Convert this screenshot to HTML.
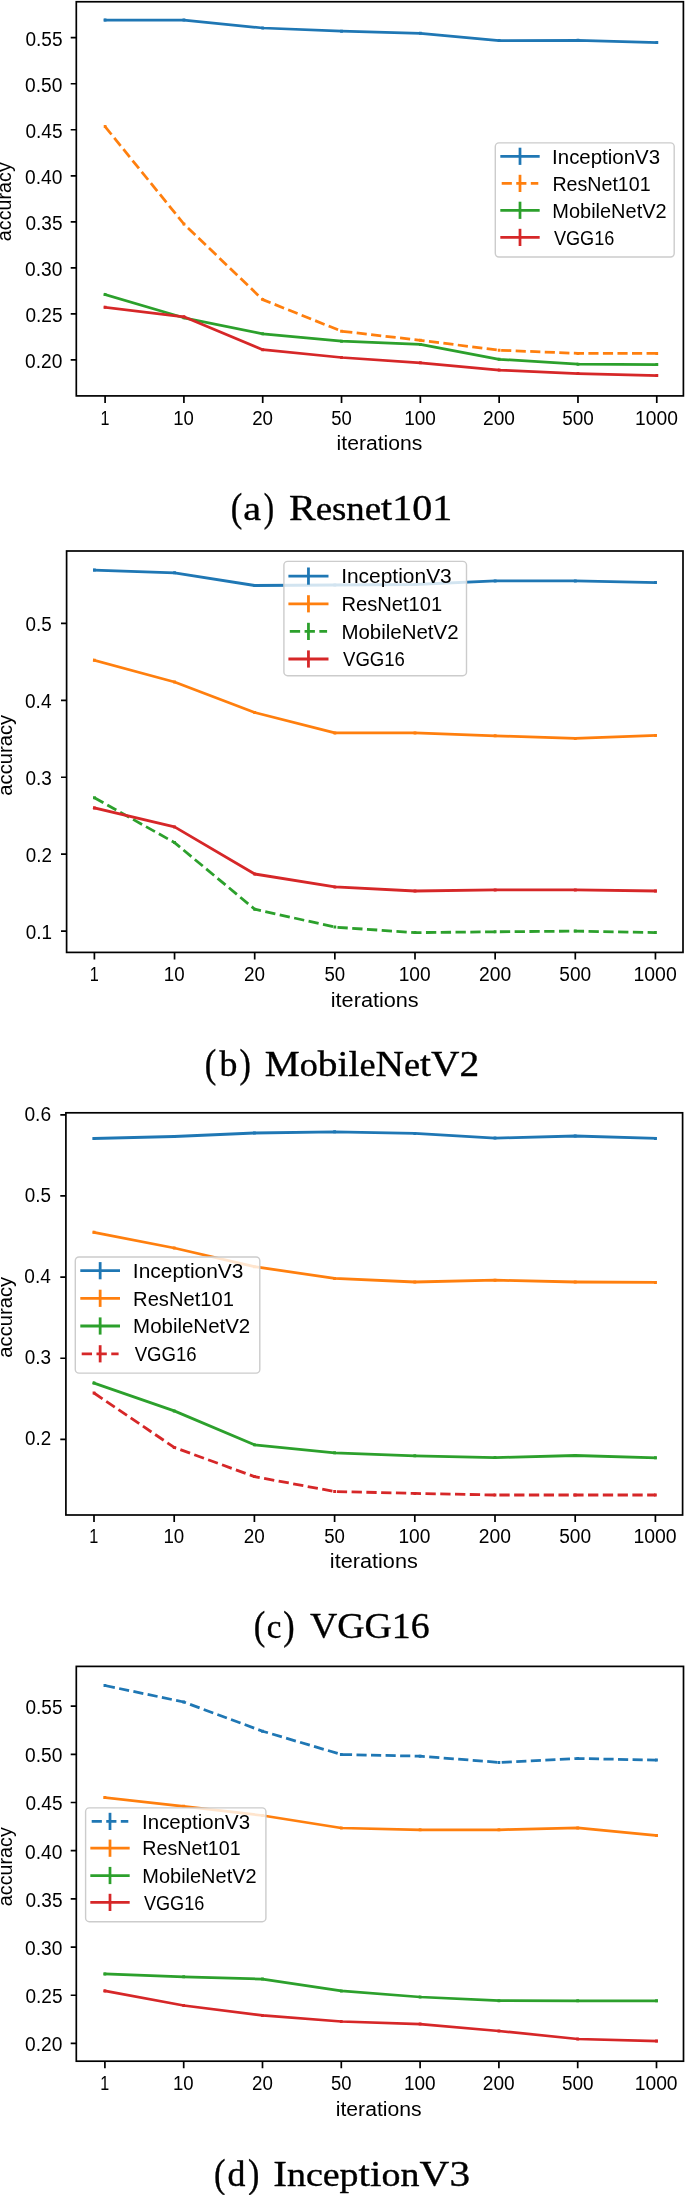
<!DOCTYPE html>
<html><head><meta charset="utf-8"><title>accuracy vs iterations</title>
<style>
html,body{margin:0;padding:0;background:#fff;}
body{width:685px;height:2195px;overflow:hidden;}
svg{display:block;filter:blur(0.45px);}
text{fill:#000;}
</style></head>
<body>
<svg width="685" height="2195" viewBox="0 0 685 2195">
<rect width="685" height="2195" fill="#fff"/>
<polyline points="105.1,20.1 183.91,20.1 262.72,28 341.53,31.2 420.34,33.3 499.15,40.6 577.96,40.3 656.77,42.6" fill="none" stroke="#1f77b4" stroke-width="2.75" stroke-linejoin="round" stroke-linecap="square"/>
<path d="M105.1 18.6v3M183.91 18.6v3M262.72 26.5v3M341.53 29.7v3M420.34 31.8v3M499.15 39.1v3M577.96 38.8v3M656.77 41.1v3" stroke="#1f77b4" stroke-width="2.75"/>
<polyline points="105.1,126.6 183.91,224 262.72,299.6 341.53,331.2 420.34,340.3 499.15,350.2 577.96,353.4 656.77,353.4" fill="none" stroke="#ff7f0e" stroke-width="2.75" stroke-linejoin="round" stroke-linecap="butt" stroke-dasharray="10.16 4.39"/>
<path d="M105.1 125.1v3M183.91 222.5v3M262.72 298.1v3M341.53 329.7v3M420.34 338.8v3M499.15 348.7v3M577.96 351.9v3M656.77 351.9v3" stroke="#ff7f0e" stroke-width="2.75"/>
<polyline points="105.1,294.5 183.91,317.8 262.72,333.8 341.53,341.2 420.34,344.4 499.15,359.3 577.96,364.2 656.77,364.5" fill="none" stroke="#2ca02c" stroke-width="2.75" stroke-linejoin="round" stroke-linecap="square"/>
<path d="M105.1 293v3M183.91 316.3v3M262.72 332.3v3M341.53 339.7v3M420.34 342.9v3M499.15 357.8v3M577.96 362.7v3M656.77 363v3" stroke="#2ca02c" stroke-width="2.75"/>
<polyline points="105.1,307.3 183.91,316.8 262.72,349.7 341.53,357.5 420.34,362.8 499.15,370.1 577.96,373.6 656.77,375.6" fill="none" stroke="#d62728" stroke-width="2.75" stroke-linejoin="round" stroke-linecap="square"/>
<path d="M105.1 305.8v3M183.91 315.3v3M262.72 348.2v3M341.53 356v3M420.34 361.3v3M499.15 368.6v3M577.96 372.1v3M656.77 374.1v3" stroke="#d62728" stroke-width="2.75"/>
<rect x="495.3" y="142.9" width="178.9" height="114.1" rx="3.66" fill="#fff" fill-opacity="0.8" stroke="#cccccc" stroke-width="1.4"/>
<line x1="501.7" y1="156.3" x2="538.3" y2="156.3" stroke="#1f77b4" stroke-width="2.75" stroke-linecap="square"/>
<line x1="520" y1="147.7" x2="520" y2="164.9" stroke="#1f77b4" stroke-width="2.75"/>
<text x="552.11" y="163.59" textLength="107.9" lengthAdjust="spacingAndGlyphs" style="font-family:'Liberation Sans',sans-serif;font-size:19.6px">InceptionV3</text>
<line x1="501.7" y1="183.4" x2="538.3" y2="183.4" stroke="#ff7f0e" stroke-width="2.75" stroke-dasharray="10.16 4.39"/>
<line x1="520" y1="174.8" x2="520" y2="192" stroke="#ff7f0e" stroke-width="2.75"/>
<text x="552.38" y="190.69" textLength="98.26" lengthAdjust="spacingAndGlyphs" style="font-family:'Liberation Sans',sans-serif;font-size:19.6px">ResNet101</text>
<line x1="501.7" y1="210.3" x2="538.3" y2="210.3" stroke="#2ca02c" stroke-width="2.75" stroke-linecap="square"/>
<line x1="520" y1="201.7" x2="520" y2="218.9" stroke="#2ca02c" stroke-width="2.75"/>
<text x="552.35" y="217.59" textLength="114.25" lengthAdjust="spacingAndGlyphs" style="font-family:'Liberation Sans',sans-serif;font-size:19.6px">MobileNetV2</text>
<line x1="501.7" y1="237.4" x2="538.3" y2="237.4" stroke="#d62728" stroke-width="2.75" stroke-linecap="square"/>
<line x1="520" y1="228.8" x2="520" y2="246" stroke="#d62728" stroke-width="2.75"/>
<text x="553.91" y="244.69" textLength="60.46" lengthAdjust="spacingAndGlyphs" style="font-family:'Liberation Sans',sans-serif;font-size:19.6px">VGG16</text>
<rect x="76.3" y="1.75" width="607.1" height="394.15" fill="none" stroke="#000" stroke-width="1.7" stroke-linejoin="miter"/>
<path d="M105.1 395.9v7M183.91 395.9v7M262.72 395.9v7M341.53 395.9v7M420.34 395.9v7M499.15 395.9v7M577.96 395.9v7M656.77 395.9v7M76.3 37.7h-5.6M76.3 83.73h-5.6M76.3 129.76h-5.6M76.3 175.79h-5.6M76.3 221.82h-5.6M76.3 267.85h-5.6M76.3 313.88h-5.6M76.3 359.91h-5.6" stroke="#000" stroke-width="1.7"/>
<text x="100.41" y="424.5" textLength="8.96" lengthAdjust="spacingAndGlyphs" style="font-family:'Liberation Sans',sans-serif;font-size:19.6px">1</text>
<text x="173.27" y="424.5" textLength="20.63" lengthAdjust="spacingAndGlyphs" style="font-family:'Liberation Sans',sans-serif;font-size:19.6px">10</text>
<text x="252.21" y="424.5" textLength="20.83" lengthAdjust="spacingAndGlyphs" style="font-family:'Liberation Sans',sans-serif;font-size:19.6px">20</text>
<text x="331.26" y="424.5" textLength="20.54" lengthAdjust="spacingAndGlyphs" style="font-family:'Liberation Sans',sans-serif;font-size:19.6px">50</text>
<text x="404.14" y="424.5" textLength="31.7" lengthAdjust="spacingAndGlyphs" style="font-family:'Liberation Sans',sans-serif;font-size:19.6px">100</text>
<text x="483.1" y="424.5" textLength="31.89" lengthAdjust="spacingAndGlyphs" style="font-family:'Liberation Sans',sans-serif;font-size:19.6px">200</text>
<text x="562.15" y="424.5" textLength="31.6" lengthAdjust="spacingAndGlyphs" style="font-family:'Liberation Sans',sans-serif;font-size:19.6px">500</text>
<text x="635.01" y="424.5" textLength="42.85" lengthAdjust="spacingAndGlyphs" style="font-family:'Liberation Sans',sans-serif;font-size:19.6px">1000</text>
<text x="25.43" y="45.5" textLength="37.05" lengthAdjust="spacingAndGlyphs" style="font-family:'Liberation Sans',sans-serif;font-size:19.6px">0.55</text>
<text x="25.08" y="91.53" textLength="37.37" lengthAdjust="spacingAndGlyphs" style="font-family:'Liberation Sans',sans-serif;font-size:19.6px">0.50</text>
<text x="25.43" y="137.56" textLength="37.05" lengthAdjust="spacingAndGlyphs" style="font-family:'Liberation Sans',sans-serif;font-size:19.6px">0.45</text>
<text x="25.08" y="183.59" textLength="37.37" lengthAdjust="spacingAndGlyphs" style="font-family:'Liberation Sans',sans-serif;font-size:19.6px">0.40</text>
<text x="25.43" y="229.62" textLength="37.05" lengthAdjust="spacingAndGlyphs" style="font-family:'Liberation Sans',sans-serif;font-size:19.6px">0.35</text>
<text x="25.08" y="275.65" textLength="37.37" lengthAdjust="spacingAndGlyphs" style="font-family:'Liberation Sans',sans-serif;font-size:19.6px">0.30</text>
<text x="25.43" y="321.68" textLength="37.05" lengthAdjust="spacingAndGlyphs" style="font-family:'Liberation Sans',sans-serif;font-size:19.6px">0.25</text>
<text x="25.08" y="367.71" textLength="37.37" lengthAdjust="spacingAndGlyphs" style="font-family:'Liberation Sans',sans-serif;font-size:19.6px">0.20</text>
<text transform="translate(11.44 201.3) rotate(-90)" x="-39.84" y="0" textLength="78.87" lengthAdjust="spacingAndGlyphs" style="font-family:'Liberation Sans',sans-serif;font-size:19.6px">accuracy</text>
<text x="336.57" y="449.5" textLength="85.77" lengthAdjust="spacingAndGlyphs" style="font-family:'Liberation Sans',sans-serif;font-size:19.6px">iterations</text>
<g transform="translate(0 511.3) scale(1 1.12) translate(0 -511.3)"><text x="230.85" y="520.2" textLength="11.49" lengthAdjust="spacingAndGlyphs" style="font-family:'Liberation Serif',serif;stroke:#000;stroke-width:0.35px;font-size:35.8px">(</text></g>
<g transform="translate(0 511.3) scale(1 1.12) translate(0 -511.3)"><text x="263.79" y="520.2" textLength="10.35" lengthAdjust="spacingAndGlyphs" style="font-family:'Liberation Serif',serif;stroke:#000;stroke-width:0.35px;font-size:35.8px">)</text></g>
<text x="243.28" y="520.2" textLength="17.8" lengthAdjust="spacingAndGlyphs" style="font-family:'Liberation Serif',serif;stroke:#000;stroke-width:0.35px;font-size:35.8px"><tspan style="font-size:32.94px">a</tspan></text>
<text x="289" y="520.2" textLength="163.18" lengthAdjust="spacingAndGlyphs" style="font-family:'Liberation Serif',serif;stroke:#000;stroke-width:0.35px;font-size:35.8px">R<tspan style="font-size:32.94px">esne</tspan>t101</text>
<polyline points="94.4,570.1 174.55,572.8 254.7,585.5 334.85,585 415,584.5 495.15,580.9 575.3,580.9 655.45,582.5" fill="none" stroke="#1f77b4" stroke-width="2.79" stroke-linejoin="round" stroke-linecap="square"/>
<path d="M94.4 568.6v3M174.55 571.3v3M254.7 584v3M334.85 583.5v3M415 583v3M495.15 579.4v3M575.3 579.4v3M655.45 581v3" stroke="#1f77b4" stroke-width="2.79"/>
<polyline points="94.4,660.3 174.55,682 254.7,712.5 334.85,732.9 415,732.9 495.15,735.8 575.3,738.4 655.45,735.5" fill="none" stroke="#ff7f0e" stroke-width="2.79" stroke-linejoin="round" stroke-linecap="square"/>
<path d="M94.4 658.8v3M174.55 680.5v3M254.7 711v3M334.85 731.4v3M415 731.4v3M495.15 734.3v3M575.3 736.9v3M655.45 734v3" stroke="#ff7f0e" stroke-width="2.79"/>
<polyline points="94.4,797.7 174.55,842.6 254.7,909.2 334.85,927.1 415,932.6 495.15,931.8 575.3,931.1 655.45,932.6" fill="none" stroke="#2ca02c" stroke-width="2.79" stroke-linejoin="round" stroke-linecap="butt" stroke-dasharray="10.32 4.46"/>
<path d="M94.4 796.2v3M174.55 841.1v3M254.7 907.7v3M334.85 925.6v3M415 931.1v3M495.15 930.3v3M575.3 929.6v3M655.45 931.1v3" stroke="#2ca02c" stroke-width="2.79"/>
<polyline points="94.4,807.9 174.55,826.9 254.7,874 334.85,886.9 415,891 495.15,889.9 575.3,889.9 655.45,891" fill="none" stroke="#d62728" stroke-width="2.79" stroke-linejoin="round" stroke-linecap="square"/>
<path d="M94.4 806.4v3M174.55 825.4v3M254.7 872.5v3M334.85 885.4v3M415 889.5v3M495.15 888.4v3M575.3 888.4v3M655.45 889.5v3" stroke="#d62728" stroke-width="2.79"/>
<rect x="283.9" y="561.4" width="182.6" height="114.3" rx="3.72" fill="#fff" fill-opacity="0.8" stroke="#cccccc" stroke-width="1.4"/>
<line x1="289.8" y1="576.1" x2="327.1" y2="576.1" stroke="#1f77b4" stroke-width="2.79" stroke-linecap="square"/>
<line x1="308.45" y1="567.5" x2="308.45" y2="584.7" stroke="#1f77b4" stroke-width="2.79"/>
<text x="341.16" y="583.39" textLength="110.59" lengthAdjust="spacingAndGlyphs" style="font-family:'Liberation Sans',sans-serif;font-size:19.6px">InceptionV3</text>
<line x1="289.8" y1="603.8" x2="327.1" y2="603.8" stroke="#ff7f0e" stroke-width="2.79" stroke-linecap="square"/>
<line x1="308.45" y1="595.2" x2="308.45" y2="612.4" stroke="#ff7f0e" stroke-width="2.79"/>
<text x="341.44" y="611.09" textLength="100.72" lengthAdjust="spacingAndGlyphs" style="font-family:'Liberation Sans',sans-serif;font-size:19.6px">ResNet101</text>
<line x1="289.8" y1="631.4" x2="327.1" y2="631.4" stroke="#2ca02c" stroke-width="2.79" stroke-dasharray="10.32 4.46"/>
<line x1="308.45" y1="622.8" x2="308.45" y2="640" stroke="#2ca02c" stroke-width="2.79"/>
<text x="341.41" y="638.69" textLength="117.11" lengthAdjust="spacingAndGlyphs" style="font-family:'Liberation Sans',sans-serif;font-size:19.6px">MobileNetV2</text>
<line x1="289.8" y1="659" x2="327.1" y2="659" stroke="#d62728" stroke-width="2.79" stroke-linecap="square"/>
<line x1="308.45" y1="650.4" x2="308.45" y2="667.6" stroke="#d62728" stroke-width="2.79"/>
<text x="343.01" y="666.29" textLength="61.97" lengthAdjust="spacingAndGlyphs" style="font-family:'Liberation Sans',sans-serif;font-size:19.6px">VGG16</text>
<rect x="66.6" y="551" width="616.4" height="401.4" fill="none" stroke="#000" stroke-width="1.7" stroke-linejoin="miter"/>
<path d="M94.4 952.4v7M174.55 952.4v7M254.7 952.4v7M334.85 952.4v7M415 952.4v7M495.15 952.4v7M575.3 952.4v7M655.45 952.4v7M66.6 623.4h-5.6M66.6 700.33h-5.6M66.6 777.26h-5.6M66.6 854.19h-5.6M66.6 931.12h-5.6" stroke="#000" stroke-width="1.7"/>
<text x="89.66" y="981.3" textLength="9.05" lengthAdjust="spacingAndGlyphs" style="font-family:'Liberation Sans',sans-serif;font-size:19.6px">1</text>
<text x="163.8" y="981.3" textLength="20.83" lengthAdjust="spacingAndGlyphs" style="font-family:'Liberation Sans',sans-serif;font-size:19.6px">10</text>
<text x="244.08" y="981.3" textLength="21.04" lengthAdjust="spacingAndGlyphs" style="font-family:'Liberation Sans',sans-serif;font-size:19.6px">20</text>
<text x="324.48" y="981.3" textLength="20.74" lengthAdjust="spacingAndGlyphs" style="font-family:'Liberation Sans',sans-serif;font-size:19.6px">50</text>
<text x="398.64" y="981.3" textLength="32.02" lengthAdjust="spacingAndGlyphs" style="font-family:'Liberation Sans',sans-serif;font-size:19.6px">100</text>
<text x="478.93" y="981.3" textLength="32.21" lengthAdjust="spacingAndGlyphs" style="font-family:'Liberation Sans',sans-serif;font-size:19.6px">200</text>
<text x="559.33" y="981.3" textLength="31.91" lengthAdjust="spacingAndGlyphs" style="font-family:'Liberation Sans',sans-serif;font-size:19.6px">500</text>
<text x="633.47" y="981.3" textLength="43.28" lengthAdjust="spacingAndGlyphs" style="font-family:'Liberation Sans',sans-serif;font-size:19.6px">1000</text>
<text x="25.55" y="631.2" textLength="26.21" lengthAdjust="spacingAndGlyphs" style="font-family:'Liberation Sans',sans-serif;font-size:19.6px">0.5</text>
<text x="25.01" y="708.13" textLength="26.52" lengthAdjust="spacingAndGlyphs" style="font-family:'Liberation Sans',sans-serif;font-size:19.6px">0.4</text>
<text x="25.45" y="785.06" textLength="26.36" lengthAdjust="spacingAndGlyphs" style="font-family:'Liberation Sans',sans-serif;font-size:19.6px">0.3</text>
<text x="25.81" y="861.99" textLength="26.13" lengthAdjust="spacingAndGlyphs" style="font-family:'Liberation Sans',sans-serif;font-size:19.6px">0.2</text>
<text x="25.63" y="938.92" textLength="26.27" lengthAdjust="spacingAndGlyphs" style="font-family:'Liberation Sans',sans-serif;font-size:19.6px">0.1</text>
<text transform="translate(11.64 754.8) rotate(-90)" x="-40.83" y="0" textLength="80.84" lengthAdjust="spacingAndGlyphs" style="font-family:'Liberation Sans',sans-serif;font-size:19.6px">accuracy</text>
<text x="330.79" y="1007.3" textLength="87.92" lengthAdjust="spacingAndGlyphs" style="font-family:'Liberation Sans',sans-serif;font-size:19.6px">iterations</text>
<g transform="translate(0 1066.8) scale(1 1.12) translate(0 -1066.8)"><text x="204.75" y="1075.7" textLength="11.49" lengthAdjust="spacingAndGlyphs" style="font-family:'Liberation Serif',serif;stroke:#000;stroke-width:0.35px;font-size:35.8px">(</text></g>
<g transform="translate(0 1066.8) scale(1 1.12) translate(0 -1066.8)"><text x="239.39" y="1075.7" textLength="11.38" lengthAdjust="spacingAndGlyphs" style="font-family:'Liberation Serif',serif;stroke:#000;stroke-width:0.35px;font-size:35.8px">)</text></g>
<text x="219.52" y="1075.7" textLength="17.9" lengthAdjust="spacingAndGlyphs" style="font-family:'Liberation Serif',serif;stroke:#000;stroke-width:0.35px;font-size:35.8px">b</text>
<text x="264.72" y="1075.7" textLength="214.4" lengthAdjust="spacingAndGlyphs" style="font-family:'Liberation Serif',serif;stroke:#000;stroke-width:0.35px;font-size:35.8px">M<tspan style="font-size:32.94px">o</tspan>bil<tspan style="font-size:32.94px">e</tspan>N<tspan style="font-size:32.94px">e</tspan>tV2</text>
<polyline points="94,1138.5 174.2,1136.5 254.4,1133 334.6,1131.8 414.8,1133.4 495,1138.1 575.2,1136 655.4,1138.4" fill="none" stroke="#1f77b4" stroke-width="2.79" stroke-linejoin="round" stroke-linecap="square"/>
<path d="M94 1137v3M174.2 1135v3M254.4 1131.5v3M334.6 1130.3v3M414.8 1131.9v3M495 1136.6v3M575.2 1134.5v3M655.4 1136.9v3" stroke="#1f77b4" stroke-width="2.79"/>
<polyline points="94,1232.3 174.2,1248 254.4,1266.7 334.6,1278.4 414.8,1282 495,1280.2 575.2,1282 655.4,1282.4" fill="none" stroke="#ff7f0e" stroke-width="2.79" stroke-linejoin="round" stroke-linecap="square"/>
<path d="M94 1230.8v3M174.2 1246.5v3M254.4 1265.2v3M334.6 1276.9v3M414.8 1280.5v3M495 1278.7v3M575.2 1280.5v3M655.4 1280.9v3" stroke="#ff7f0e" stroke-width="2.79"/>
<polyline points="94,1383.1 174.2,1410.9 254.4,1444.8 334.6,1452.8 414.8,1455.8 495,1457.6 575.2,1455.5 655.4,1457.8" fill="none" stroke="#2ca02c" stroke-width="2.79" stroke-linejoin="round" stroke-linecap="square"/>
<path d="M94 1381.6v3M174.2 1409.4v3M254.4 1443.3v3M334.6 1451.3v3M414.8 1454.3v3M495 1456.1v3M575.2 1454v3M655.4 1456.3v3" stroke="#2ca02c" stroke-width="2.79"/>
<polyline points="94,1393 174.2,1447.4 254.4,1476.6 334.6,1491.5 414.8,1493.4 495,1495 575.2,1495 655.4,1495" fill="none" stroke="#d62728" stroke-width="2.79" stroke-linejoin="round" stroke-linecap="butt" stroke-dasharray="10.32 4.46"/>
<path d="M94 1391.5v3M174.2 1445.9v3M254.4 1475.1v3M334.6 1490v3M414.8 1491.9v3M495 1493.5v3M575.2 1493.5v3M655.4 1493.5v3" stroke="#d62728" stroke-width="2.79"/>
<rect x="75.3" y="1257" width="184.5" height="116.1" rx="3.72" fill="#fff" fill-opacity="0.8" stroke="#cccccc" stroke-width="1.4"/>
<line x1="81.7" y1="1270.7" x2="118.6" y2="1270.7" stroke="#1f77b4" stroke-width="2.79" stroke-linecap="square"/>
<line x1="100.15" y1="1262.1" x2="100.15" y2="1279.3" stroke="#1f77b4" stroke-width="2.79"/>
<text x="132.86" y="1277.99" textLength="110.59" lengthAdjust="spacingAndGlyphs" style="font-family:'Liberation Sans',sans-serif;font-size:19.6px">InceptionV3</text>
<line x1="81.7" y1="1298.3" x2="118.6" y2="1298.3" stroke="#ff7f0e" stroke-width="2.79" stroke-linecap="square"/>
<line x1="100.15" y1="1289.7" x2="100.15" y2="1306.9" stroke="#ff7f0e" stroke-width="2.79"/>
<text x="133.14" y="1305.59" textLength="100.72" lengthAdjust="spacingAndGlyphs" style="font-family:'Liberation Sans',sans-serif;font-size:19.6px">ResNet101</text>
<line x1="81.7" y1="1326" x2="118.6" y2="1326" stroke="#2ca02c" stroke-width="2.79" stroke-linecap="square"/>
<line x1="100.15" y1="1317.4" x2="100.15" y2="1334.6" stroke="#2ca02c" stroke-width="2.79"/>
<text x="133.11" y="1333.29" textLength="117.11" lengthAdjust="spacingAndGlyphs" style="font-family:'Liberation Sans',sans-serif;font-size:19.6px">MobileNetV2</text>
<line x1="81.7" y1="1353.8" x2="118.6" y2="1353.8" stroke="#d62728" stroke-width="2.79" stroke-dasharray="10.32 4.46"/>
<line x1="100.15" y1="1345.2" x2="100.15" y2="1362.4" stroke="#d62728" stroke-width="2.79"/>
<text x="134.71" y="1361.09" textLength="61.97" lengthAdjust="spacingAndGlyphs" style="font-family:'Liberation Sans',sans-serif;font-size:19.6px">VGG16</text>
<rect x="65.9" y="1112.8" width="616.7" height="402.2" fill="none" stroke="#000" stroke-width="1.7" stroke-linejoin="miter"/>
<path d="M94 1515v7M174.2 1515v7M254.4 1515v7M334.6 1515v7M414.8 1515v7M495 1515v7M575.2 1515v7M655.4 1515v7M65.9 1114.8h-5.6M65.9 1195.95h-5.6M65.9 1277.1h-5.6M65.9 1358.25h-5.6M65.9 1439.4h-5.6" stroke="#000" stroke-width="1.7"/>
<text x="89.26" y="1542.9" textLength="9.05" lengthAdjust="spacingAndGlyphs" style="font-family:'Liberation Sans',sans-serif;font-size:19.6px">1</text>
<text x="163.45" y="1542.9" textLength="20.83" lengthAdjust="spacingAndGlyphs" style="font-family:'Liberation Sans',sans-serif;font-size:19.6px">10</text>
<text x="243.78" y="1542.9" textLength="21.04" lengthAdjust="spacingAndGlyphs" style="font-family:'Liberation Sans',sans-serif;font-size:19.6px">20</text>
<text x="324.23" y="1542.9" textLength="20.74" lengthAdjust="spacingAndGlyphs" style="font-family:'Liberation Sans',sans-serif;font-size:19.6px">50</text>
<text x="398.44" y="1542.9" textLength="32.02" lengthAdjust="spacingAndGlyphs" style="font-family:'Liberation Sans',sans-serif;font-size:19.6px">100</text>
<text x="478.78" y="1542.9" textLength="32.21" lengthAdjust="spacingAndGlyphs" style="font-family:'Liberation Sans',sans-serif;font-size:19.6px">200</text>
<text x="559.23" y="1542.9" textLength="31.91" lengthAdjust="spacingAndGlyphs" style="font-family:'Liberation Sans',sans-serif;font-size:19.6px">500</text>
<text x="633.42" y="1542.9" textLength="43.28" lengthAdjust="spacingAndGlyphs" style="font-family:'Liberation Sans',sans-serif;font-size:19.6px">1000</text>
<text x="24.44" y="1120.7" textLength="26.68" lengthAdjust="spacingAndGlyphs" style="font-family:'Liberation Sans',sans-serif;font-size:19.6px">0.6</text>
<text x="24.85" y="1201.85" textLength="26.21" lengthAdjust="spacingAndGlyphs" style="font-family:'Liberation Sans',sans-serif;font-size:19.6px">0.5</text>
<text x="24.31" y="1283" textLength="26.52" lengthAdjust="spacingAndGlyphs" style="font-family:'Liberation Sans',sans-serif;font-size:19.6px">0.4</text>
<text x="24.75" y="1364.15" textLength="26.36" lengthAdjust="spacingAndGlyphs" style="font-family:'Liberation Sans',sans-serif;font-size:19.6px">0.3</text>
<text x="25.11" y="1445.3" textLength="26.13" lengthAdjust="spacingAndGlyphs" style="font-family:'Liberation Sans',sans-serif;font-size:19.6px">0.2</text>
<text transform="translate(11.54 1316.8) rotate(-90)" x="-40.83" y="0" textLength="80.84" lengthAdjust="spacingAndGlyphs" style="font-family:'Liberation Sans',sans-serif;font-size:19.6px">accuracy</text>
<text x="329.89" y="1567.7" textLength="87.92" lengthAdjust="spacingAndGlyphs" style="font-family:'Liberation Sans',sans-serif;font-size:19.6px">iterations</text>
<g transform="translate(0 1629.4) scale(1 1.12) translate(0 -1629.4)"><text x="253.75" y="1638.3" textLength="11.49" lengthAdjust="spacingAndGlyphs" style="font-family:'Liberation Serif',serif;stroke:#000;stroke-width:0.35px;font-size:35.8px">(</text></g>
<g transform="translate(0 1629.4) scale(1 1.12) translate(0 -1629.4)"><text x="283.19" y="1638.3" textLength="11.38" lengthAdjust="spacingAndGlyphs" style="font-family:'Liberation Serif',serif;stroke:#000;stroke-width:0.35px;font-size:35.8px">)</text></g>
<text x="266.77" y="1638.3" textLength="14.62" lengthAdjust="spacingAndGlyphs" style="font-family:'Liberation Serif',serif;stroke:#000;stroke-width:0.35px;font-size:35.8px"><tspan style="font-size:32.94px">c</tspan></text>
<text x="309.93" y="1638.3" textLength="119.77" lengthAdjust="spacingAndGlyphs" style="font-family:'Liberation Serif',serif;stroke:#000;stroke-width:0.35px;font-size:35.8px">VGG16</text>
<polyline points="104.9,1685.5 183.7,1702 262.5,1731.2 341.3,1754.5 420.1,1756.2 498.9,1762.4 577.7,1758.5 656.5,1760.1" fill="none" stroke="#1f77b4" stroke-width="2.75" stroke-linejoin="round" stroke-linecap="butt" stroke-dasharray="10.16 4.39"/>
<path d="M104.9 1684v3M183.7 1700.5v3M262.5 1729.7v3M341.3 1753v3M420.1 1754.7v3M498.9 1760.9v3M577.7 1757v3M656.5 1758.6v3" stroke="#1f77b4" stroke-width="2.75"/>
<polyline points="104.9,1797.5 183.7,1806.3 262.5,1815.5 341.3,1828 420.1,1829.8 498.9,1829.8 577.7,1827.9 656.5,1835.6" fill="none" stroke="#ff7f0e" stroke-width="2.75" stroke-linejoin="round" stroke-linecap="square"/>
<path d="M104.9 1796v3M183.7 1804.8v3M262.5 1814v3M341.3 1826.5v3M420.1 1828.3v3M498.9 1828.3v3M577.7 1826.4v3M656.5 1834.1v3" stroke="#ff7f0e" stroke-width="2.75"/>
<polyline points="104.9,1973.9 183.7,1976.8 262.5,1979.1 341.3,1990.9 420.1,1997 498.9,2000.7 577.7,2000.8 656.5,2000.8" fill="none" stroke="#2ca02c" stroke-width="2.75" stroke-linejoin="round" stroke-linecap="square"/>
<path d="M104.9 1972.4v3M183.7 1975.3v3M262.5 1977.6v3M341.3 1989.4v3M420.1 1995.5v3M498.9 1999.2v3M577.7 1999.3v3M656.5 1999.3v3" stroke="#2ca02c" stroke-width="2.75"/>
<polyline points="104.9,1990.9 183.7,2005.5 262.5,2015.4 341.3,2021.5 420.1,2024.1 498.9,2031 577.7,2039 656.5,2041.1" fill="none" stroke="#d62728" stroke-width="2.75" stroke-linejoin="round" stroke-linecap="square"/>
<path d="M104.9 1989.4v3M183.7 2004v3M262.5 2013.9v3M341.3 2020v3M420.1 2022.6v3M498.9 2029.5v3M577.7 2037.5v3M656.5 2039.6v3" stroke="#d62728" stroke-width="2.75"/>
<rect x="85.6" y="1807.9" width="180.3" height="113.8" rx="3.66" fill="#fff" fill-opacity="0.8" stroke="#cccccc" stroke-width="1.4"/>
<line x1="91.7" y1="1821.4" x2="128.3" y2="1821.4" stroke="#1f77b4" stroke-width="2.75" stroke-dasharray="10.16 4.39"/>
<line x1="110" y1="1812.8" x2="110" y2="1830" stroke="#1f77b4" stroke-width="2.75"/>
<text x="142.11" y="1828.69" textLength="107.9" lengthAdjust="spacingAndGlyphs" style="font-family:'Liberation Sans',sans-serif;font-size:19.6px">InceptionV3</text>
<line x1="91.7" y1="1848.2" x2="128.3" y2="1848.2" stroke="#ff7f0e" stroke-width="2.75" stroke-linecap="square"/>
<line x1="110" y1="1839.6" x2="110" y2="1856.8" stroke="#ff7f0e" stroke-width="2.75"/>
<text x="142.38" y="1855.49" textLength="98.26" lengthAdjust="spacingAndGlyphs" style="font-family:'Liberation Sans',sans-serif;font-size:19.6px">ResNet101</text>
<line x1="91.7" y1="1875.5" x2="128.3" y2="1875.5" stroke="#2ca02c" stroke-width="2.75" stroke-linecap="square"/>
<line x1="110" y1="1866.9" x2="110" y2="1884.1" stroke="#2ca02c" stroke-width="2.75"/>
<text x="142.35" y="1882.79" textLength="114.25" lengthAdjust="spacingAndGlyphs" style="font-family:'Liberation Sans',sans-serif;font-size:19.6px">MobileNetV2</text>
<line x1="91.7" y1="1902.4" x2="128.3" y2="1902.4" stroke="#d62728" stroke-width="2.75" stroke-linecap="square"/>
<line x1="110" y1="1893.8" x2="110" y2="1911" stroke="#d62728" stroke-width="2.75"/>
<text x="143.91" y="1909.69" textLength="60.46" lengthAdjust="spacingAndGlyphs" style="font-family:'Liberation Sans',sans-serif;font-size:19.6px">VGG16</text>
<rect x="76.3" y="1666.4" width="607.2" height="394.8" fill="none" stroke="#000" stroke-width="1.7" stroke-linejoin="miter"/>
<path d="M104.9 2061.2v7M183.7 2061.2v7M262.5 2061.2v7M341.3 2061.2v7M420.1 2061.2v7M498.9 2061.2v7M577.7 2061.2v7M656.5 2061.2v7M76.3 1706.1h-5.6M76.3 1754.29h-5.6M76.3 1802.48h-5.6M76.3 1850.67h-5.6M76.3 1898.86h-5.6M76.3 1947.05h-5.6M76.3 1995.24h-5.6M76.3 2043.43h-5.6" stroke="#000" stroke-width="1.7"/>
<text x="100.21" y="2089.8" textLength="8.96" lengthAdjust="spacingAndGlyphs" style="font-family:'Liberation Sans',sans-serif;font-size:19.6px">1</text>
<text x="173.06" y="2089.8" textLength="20.63" lengthAdjust="spacingAndGlyphs" style="font-family:'Liberation Sans',sans-serif;font-size:19.6px">10</text>
<text x="251.99" y="2089.8" textLength="20.83" lengthAdjust="spacingAndGlyphs" style="font-family:'Liberation Sans',sans-serif;font-size:19.6px">20</text>
<text x="331.03" y="2089.8" textLength="20.54" lengthAdjust="spacingAndGlyphs" style="font-family:'Liberation Sans',sans-serif;font-size:19.6px">50</text>
<text x="403.9" y="2089.8" textLength="31.7" lengthAdjust="spacingAndGlyphs" style="font-family:'Liberation Sans',sans-serif;font-size:19.6px">100</text>
<text x="482.85" y="2089.8" textLength="31.89" lengthAdjust="spacingAndGlyphs" style="font-family:'Liberation Sans',sans-serif;font-size:19.6px">200</text>
<text x="561.89" y="2089.8" textLength="31.6" lengthAdjust="spacingAndGlyphs" style="font-family:'Liberation Sans',sans-serif;font-size:19.6px">500</text>
<text x="634.74" y="2089.8" textLength="42.85" lengthAdjust="spacingAndGlyphs" style="font-family:'Liberation Sans',sans-serif;font-size:19.6px">1000</text>
<text x="25.43" y="1714" textLength="37.05" lengthAdjust="spacingAndGlyphs" style="font-family:'Liberation Sans',sans-serif;font-size:19.6px">0.55</text>
<text x="25.08" y="1762.19" textLength="37.37" lengthAdjust="spacingAndGlyphs" style="font-family:'Liberation Sans',sans-serif;font-size:19.6px">0.50</text>
<text x="25.43" y="1810.38" textLength="37.05" lengthAdjust="spacingAndGlyphs" style="font-family:'Liberation Sans',sans-serif;font-size:19.6px">0.45</text>
<text x="25.08" y="1858.57" textLength="37.37" lengthAdjust="spacingAndGlyphs" style="font-family:'Liberation Sans',sans-serif;font-size:19.6px">0.40</text>
<text x="25.43" y="1906.76" textLength="37.05" lengthAdjust="spacingAndGlyphs" style="font-family:'Liberation Sans',sans-serif;font-size:19.6px">0.35</text>
<text x="25.08" y="1954.95" textLength="37.37" lengthAdjust="spacingAndGlyphs" style="font-family:'Liberation Sans',sans-serif;font-size:19.6px">0.30</text>
<text x="25.43" y="2003.14" textLength="37.05" lengthAdjust="spacingAndGlyphs" style="font-family:'Liberation Sans',sans-serif;font-size:19.6px">0.25</text>
<text x="25.08" y="2051.33" textLength="37.37" lengthAdjust="spacingAndGlyphs" style="font-family:'Liberation Sans',sans-serif;font-size:19.6px">0.20</text>
<text transform="translate(11.74 1866.3) rotate(-90)" x="-39.84" y="0" textLength="78.87" lengthAdjust="spacingAndGlyphs" style="font-family:'Liberation Sans',sans-serif;font-size:19.6px">accuracy</text>
<text x="335.77" y="2115.5" textLength="85.77" lengthAdjust="spacingAndGlyphs" style="font-family:'Liberation Sans',sans-serif;font-size:19.6px">iterations</text>
<g transform="translate(0 2177.1) scale(1 1.12) translate(0 -2177.1)"><text x="214.05" y="2186" textLength="11.49" lengthAdjust="spacingAndGlyphs" style="font-family:'Liberation Serif',serif;stroke:#000;stroke-width:0.35px;font-size:35.8px">(</text></g>
<g transform="translate(0 2177.1) scale(1 1.12) translate(0 -2177.1)"><text x="248.09" y="2186" textLength="11.38" lengthAdjust="spacingAndGlyphs" style="font-family:'Liberation Serif',serif;stroke:#000;stroke-width:0.35px;font-size:35.8px">)</text></g>
<text x="227.45" y="2186" textLength="17.9" lengthAdjust="spacingAndGlyphs" style="font-family:'Liberation Serif',serif;stroke:#000;stroke-width:0.35px;font-size:35.8px">d</text>
<text x="273.15" y="2186" textLength="196.9" lengthAdjust="spacingAndGlyphs" style="font-family:'Liberation Serif',serif;stroke:#000;stroke-width:0.35px;font-size:35.8px">I<tspan style="font-size:32.94px">ncep</tspan>ti<tspan style="font-size:32.94px">on</tspan>V3</text>
</svg>
</body></html>
